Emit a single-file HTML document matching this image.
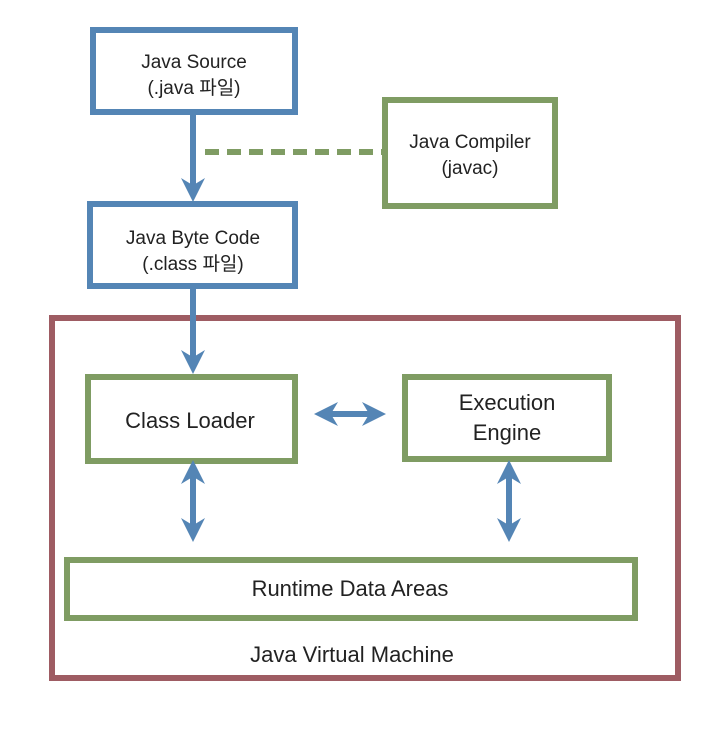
<!DOCTYPE html>
<html><head><meta charset="utf-8"><style>
html,body{margin:0;padding:0;background:#fff;}
svg text{font-family:"Liberation Sans","Noto Sans CJK KR",sans-serif;fill:#222;}
</style></head><body>
<svg width="704" height="726" viewBox="0 0 704 726" xmlns="http://www.w3.org/2000/svg">
<defs>
<marker id="ah" viewBox="0 0 10 10" refX="5" refY="5" markerWidth="4" markerHeight="4.4" orient="auto-start-reverse">
<path d="M0,0 L10,5 L0,10 L3,5 Z" fill="#5485b5"/>
</marker>
</defs>
<rect x="52" y="318" width="626" height="360" fill="none" stroke="#9e5c63" stroke-width="6"/>
<rect x="93" y="30" width="202" height="82" fill="#fff" stroke="#5485b5" stroke-width="6"/>
<text x="194" y="68" font-size="19" text-anchor="middle">Java Source</text>
<text x="194" y="94" font-size="19" text-anchor="middle">(.java 파일)</text>
<rect x="385" y="100" width="170" height="106" fill="#fff" stroke="#7f9c63" stroke-width="6"/>
<text x="470" y="148" font-size="19" text-anchor="middle">Java Compiler</text>
<text x="470" y="174" font-size="19" text-anchor="middle">(javac)</text>
<line x1="205" y1="152" x2="382" y2="152" stroke="#7f9c63" stroke-width="6" stroke-dasharray="14,8"/>
<line x1="193" y1="112" x2="193" y2="190" stroke="#5485b5" stroke-width="6" marker-end="url(#ah)"/>
<rect x="90" y="204" width="205" height="82" fill="#fff" stroke="#5485b5" stroke-width="6"/>
<text x="193" y="244" font-size="19" text-anchor="middle">Java Byte Code</text>
<text x="193" y="270" font-size="19" text-anchor="middle">(.class 파일)</text>
<line x1="193" y1="286" x2="193" y2="362" stroke="#5485b5" stroke-width="6" marker-end="url(#ah)"/>
<rect x="88" y="377" width="207" height="84" fill="#fff" stroke="#7f9c63" stroke-width="6"/>
<text x="190" y="428" font-size="22" text-anchor="middle">Class Loader</text>
<rect x="405" y="377" width="204" height="82" fill="#fff" stroke="#7f9c63" stroke-width="6"/>
<text x="507" y="410" font-size="22" text-anchor="middle">Execution</text>
<text x="507" y="440" font-size="22" text-anchor="middle">Engine</text>
<line x1="326" y1="414" x2="374" y2="414" stroke="#5485b5" stroke-width="6" marker-start="url(#ah)" marker-end="url(#ah)"/>
<line x1="193" y1="472" x2="193" y2="530" stroke="#5485b5" stroke-width="6" marker-start="url(#ah)" marker-end="url(#ah)"/>
<line x1="509" y1="472" x2="509" y2="530" stroke="#5485b5" stroke-width="6" marker-start="url(#ah)" marker-end="url(#ah)"/>
<rect x="67" y="560" width="568" height="58" fill="#fff" stroke="#7f9c63" stroke-width="6"/>
<text x="350" y="596" font-size="22" text-anchor="middle">Runtime Data Areas</text>
<text x="352" y="662" font-size="22" text-anchor="middle">Java Virtual Machine</text>
</svg>
</body></html>
